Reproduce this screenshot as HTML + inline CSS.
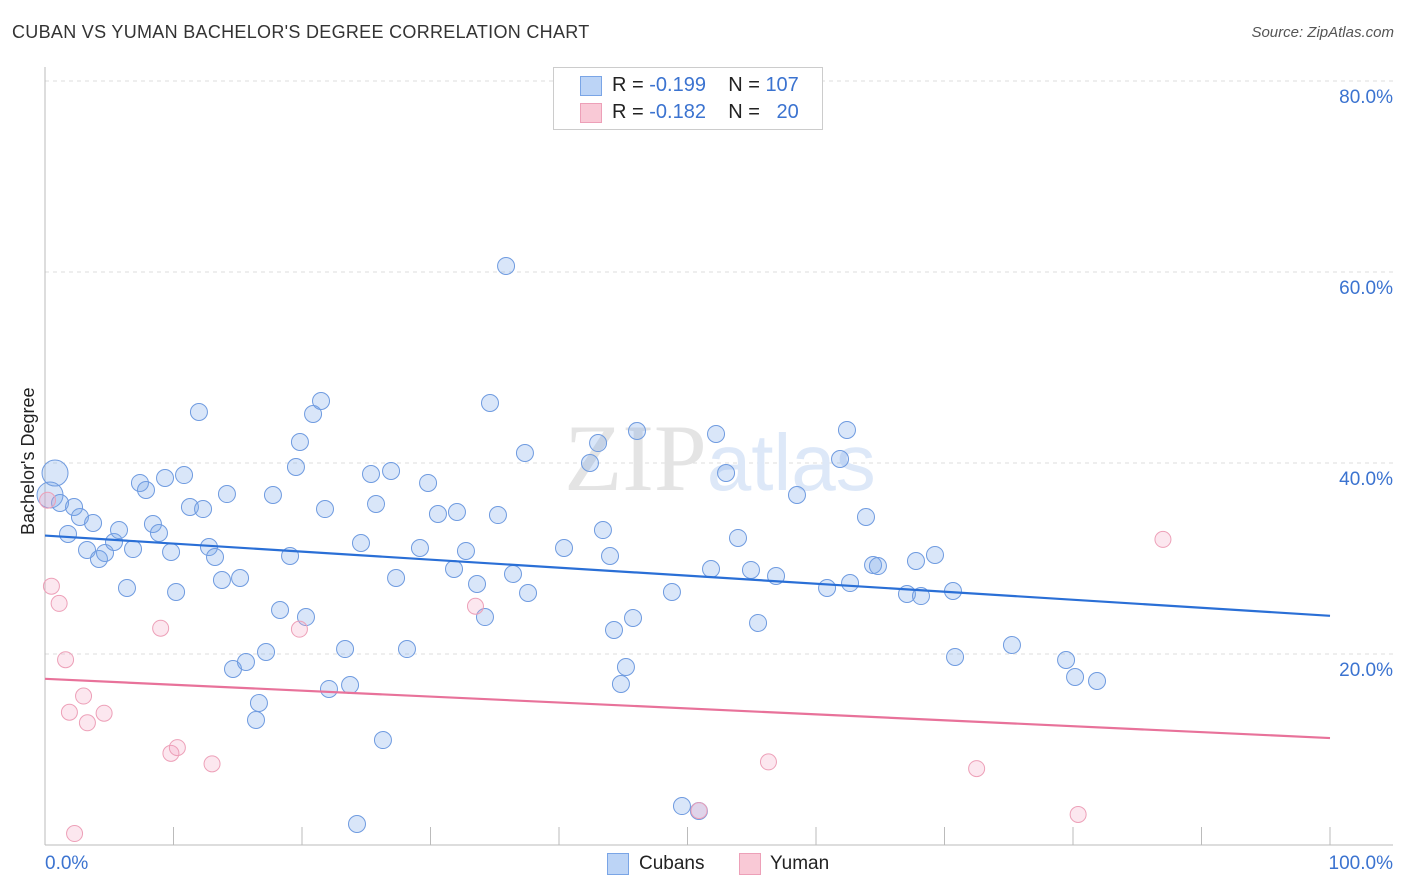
<!DOCTYPE html>
<html><head><meta charset="utf-8"><style>
body{margin:0;background:#fff;font-family:"Liberation Sans",sans-serif;}
#wrap{position:relative;width:1406px;height:892px;overflow:hidden;}
.t{position:absolute;white-space:nowrap;}
</style></head><body>
<div id="wrap">
<div class="t" style="left:12px;top:22px;font-size:18px;letter-spacing:0.3px;color:#333;">CUBAN VS YUMAN BACHELOR'S DEGREE CORRELATION CHART</div>
<div class="t" style="right:12px;top:24px;font-size:15px;color:#555;font-style:italic;">Source: ZipAtlas.com</div>
<svg id="svg" width="1406" height="892" style="position:absolute;left:0;top:0"></svg>
<div class="t" style="left:553px;top:67px;width:268px;height:61px;border:1px solid #ccc;background:#fff;">
 <div class="t" style="left:26px;top:8px;width:20px;height:18px;background:#bcd4f6;border:1px solid #7aa5e6;"></div>
 <div class="t" style="left:58px;top:6px;font-size:20px;color:#222;">R = <span style="color:#3b73d0">-0.199</span>&nbsp;&nbsp;&nbsp; N = <span style="color:#3b73d0">107</span></div>
 <div class="t" style="left:26px;top:35px;width:20px;height:18px;background:#f9c9d6;border:1px solid #eda0b8;"></div>
 <div class="t" style="left:58px;top:33px;font-size:20px;color:#222;">R = <span style="color:#3b73d0">-0.182</span>&nbsp;&nbsp;&nbsp; N = &nbsp;&nbsp;<span style="color:#3b73d0">20</span></div>
</div>
<div class="t" style="left:18px;font-size:18px;color:#222;transform:rotate(-90deg);transform-origin:0 0;top:535px;">Bachelor's Degree</div>
<div class="t" style="left:607px;top:853px;width:20px;height:20px;background:#bcd4f6;border:1px solid #7aa5e6;"></div>
<div class="t" style="left:639px;top:853px;font-size:19px;color:#222;">Cubans</div>
<div class="t" style="left:739px;top:853px;width:20px;height:20px;background:#f9c9d6;border:1px solid #eda0b8;"></div>
<div class="t" style="left:770px;top:853px;font-size:19px;color:#222;">Yuman</div>
</div>
<script>
const yTicks=[20,40,60,80];
const xLabels=["0.0%","100.0%"];
const cubanX=[0.78,0.39,1.17,2.26,2.72,3.74,1.79,3.27,4.20,4.67,
5.37,5.76,6.38,6.85,7.39,7.86,8.40,8.87,9.34,9.81,
10.2,10.82,11.28,11.98,12.30,12.76,13.23,13.77,14.16,15.18,
14.63,15.64,16.42,16.65,17.20,17.74,18.29,19.07,19.53,19.84,
20.31,20.86,21.48,21.79,22.1,23.35,23.74,24.28,24.59,25.37,
25.76,26.30,26.93,27.32,28.17,29.18,29.81,30.58,31.83,32.06,
32.76,33.62,34.24,34.63,35.25,35.88,36.42,37.35,37.59,40.39,
42.41,43.04,43.42,43.97,44.28,44.82,45.21,45.76,46.07,48.79,
49.57,50.89,51.83,52.22,53.0,53.93,54.94,55.49,56.89,58.52,
60.86,61.87,62.41,62.65,63.89,64.44,64.82,67.08,67.78,68.17,
69.26,70.66,70.82,75.25,79.46,80.16,81.87];
const cubanY=[38.95,36.65,35.81,35.39,34.35,33.72,32.57,30.89,29.95,30.58,
31.73,32.98,26.91,30.99,37.91,37.17,33.61,32.67,38.43,30.68,
26.49,38.74,35.39,45.34,35.18,31.20,30.16,27.75,36.75,27.96,
18.43,19.16,13.09,14.87,20.21,36.65,24.61,30.26,39.58,42.20,
23.87,45.13,46.49,35.18,16.34,20.52,16.75,2.20,31.62,38.85,
35.71,10.99,39.16,27.96,20.52,31.10,37.91,34.66,28.90,34.87,
30.79,27.33,23.87,46.28,34.55,60.63,28.38,41.05,26.39,31.10,
40.0,42.09,32.98,30.26,22.51,16.86,18.64,23.77,43.35,26.49,
4.08,3.56,28.90,43.04,38.95,32.15,28.80,23.25,28.17,36.65,
26.91,40.42,43.46,27.43,34.35,29.32,29.21,26.28,29.74,26.07,
30.37,26.60,19.69,20.94,19.37,17.59,17.17];
const yumanX=[0.2,0.5,1.1,1.6,1.9,3.0,3.3,4.6,2.3,9.0,9.8,10.3,13.0,19.8,33.5,50.9,56.3,72.5,80.4,87.0];
const yumanY=[36.1,27.1,25.3,19.4,13.9,15.6,12.8,13.8,1.2,22.7,9.6,10.2,8.5,22.6,25.0,3.6,8.7,8.0,3.2,32.0];
const cubanTrend=[32.4,24.0];
const yumanTrend=[17.4,11.2];
const NS="http://www.w3.org/2000/svg";
const svg=document.getElementById('svg');
const X0=45,X1=1330,Y0=845,PPU=9.55;
const sx=v=>X0+(X1-X0)*v/100;
const sy=v=>Y0-v*PPU;
function mk(tag,attrs){const e=document.createElementNS(NS,tag);for(const k in attrs)e.setAttribute(k,attrs[k]);svg.appendChild(e);return e;}
for(const t of yTicks){
 const l=mk('line',{x1:X0,x2:1393,y1:sy(t),y2:sy(t),stroke:'#ddd','stroke-dasharray':'4,4'});
 
 
 const tx=mk('text',{x:1393,y:sy(t)+22,'text-anchor':'end','font-size':19,fill:'#3b73d0','font-family':'Liberation Sans'});
 tx.textContent=t+'.0%';
 
 
}
const ax=mk('line',{x1:X0,x2:X0,y1:67,y2:Y0,stroke:'#bbb'});


const bx=mk('line',{x1:X0,x2:1393,y1:Y0,y2:Y0,stroke:'#bbb'});


for(let i=0;i<=10;i++){
 const tk=mk('line',{x1:sx(i*10),x2:sx(i*10),y1:Y0,y2:Y0-18,stroke:'#bbb'});
 
 
}
[[xLabels[0],45,'start'],[xLabels[1],1393,'end']].forEach(([s,x,a])=>{
 const t=mk('text',{x:x,y:869,'text-anchor':a,'font-size':19,fill:'#3b73d0','font-family':'Liberation Sans'});
 t.textContent=s;
 
 
});
const wm=mk('text',{x:720,y:490,'text-anchor':'middle','font-size':95,fill:'#e4e4e4','font-family':'Liberation Serif'});
wm.innerHTML='ZIP<tspan fill="#dde8f8" font-family="Liberation Sans" font-size="80">atlas</tspan>';


cubanX.forEach((x,i)=>{
 const big=i<2;
 const c=mk('circle',{cx:sx(x),cy:sy(cubanY[i]),r:big?13:8.5,fill:'rgba(120,165,235,0.28)',stroke:'#6f9be0','stroke-width':1});
 
 
});
yumanX.forEach((x,i)=>{
 const c=mk('circle',{cx:sx(x),cy:sy(yumanY[i]),r:8,fill:'rgba(245,160,190,0.25)',stroke:'#eda0b8','stroke-width':1});
 
 
});
const l1=mk('line',{x1:sx(0),y1:sy(cubanTrend[0]),x2:sx(100),y2:sy(cubanTrend[1]),stroke:'#2a6fd6','stroke-width':2.2});


const l2=mk('line',{x1:sx(0),y1:sy(yumanTrend[0]),x2:sx(100),y2:sy(yumanTrend[1]),stroke:'#e8729a','stroke-width':2.2});


</script>
</body></html>
